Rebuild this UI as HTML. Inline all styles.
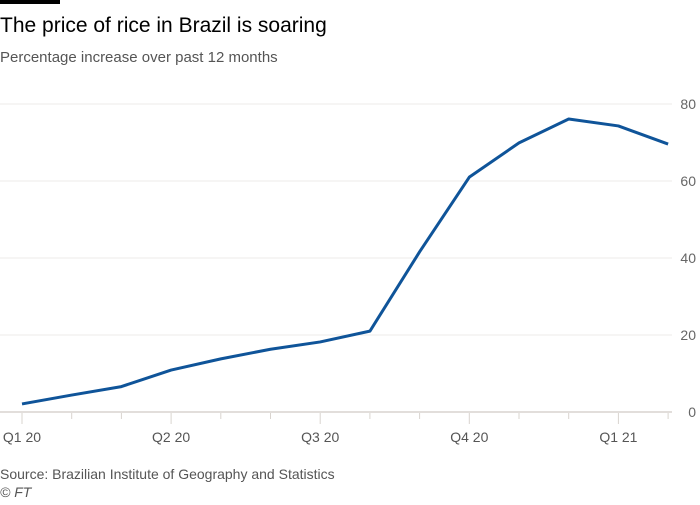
<!DOCTYPE html>
<html><head><meta charset="utf-8"><style>
body{margin:0;background:#fff;width:700px;height:500px;overflow:hidden;font-family:"Liberation Sans",sans-serif;}
</style></head><body>
<svg width="700" height="500">
<rect x="0" y="0" width="60" height="4" fill="#000"/>
<text x="0" y="32" font-size="21" fill="#000">The price of rice in Brazil is soaring</text>
<text x="0" y="62" font-size="15" fill="#555">Percentage increase over past 12 months</text>
<g id="grid"></g><g id="xaxis"></g>
<path id="line" fill="none" stroke="#0f5499" stroke-width="3" stroke-linejoin="round"/>
<text x="0" y="479" font-size="14" fill="#555">Source: Brazilian Institute of Geography and Statistics</text>
<text x="0" y="497" font-size="14" font-style="italic" fill="#555">© FT</text>
</svg>
<script>
const months=["Jan 20","Feb 20","Mar 20","Apr 20","May 20","Jun 20","Jul 20","Aug 20","Sep 20","Oct 20","Nov 20","Dec 20","Jan 21","Feb 21"];
const values=[2.1,4.4,6.6,10.9,13.8,16.3,18.2,21.0,41.6,61.0,69.9,76.1,74.3,69.6];
const yTicks=[0,20,40,60,80];
const qLabels=["Q1 20","","","Q2 20","","","Q3 20","","","Q4 20","","","Q1 21",""];
const ns="http://www.w3.org/2000/svg";
const xs=i=>22+i*49.7, ys=v=>412-v*3.85;
const g=document.getElementById('grid'), xa=document.getElementById('xaxis');
function mk(t,a,p){const e=document.createElementNS(ns,t);for(const k in a)e.setAttribute(k,a[k]);p.appendChild(e);return e;}
yTicks.forEach(v=>{
 const l=mk('line',{x1:0,x2:672,y1:ys(v),y2:ys(v),stroke:v===0?'#d9d4cf':'#eeebe8','stroke-width':v===0?1.5:1},g);
 
 
 const t=mk('text',{x:696,y:ys(v)+5,'font-size':14,fill:'#666','text-anchor':'end'},g);
 t.textContent=v;
 
 
});
months.forEach((m,i)=>{
 const q=qLabels[i]!=='';
 const tk=mk('line',{x1:xs(i),x2:xs(i),y1:413,y2:q?424:419,stroke:'#d9d4cf','stroke-width':1},xa);
 
 
 if(q){const t=mk('text',{x:xs(i),y:442,'font-size':14,fill:'#555','text-anchor':'middle'},xa);
 t.textContent=qLabels[i];
 
 }
});
document.getElementById('line').setAttribute('d',values.map((v,i)=>(i?'L':'M')+xs(i)+','+ys(v)).join(''));
</script>
</body></html>
